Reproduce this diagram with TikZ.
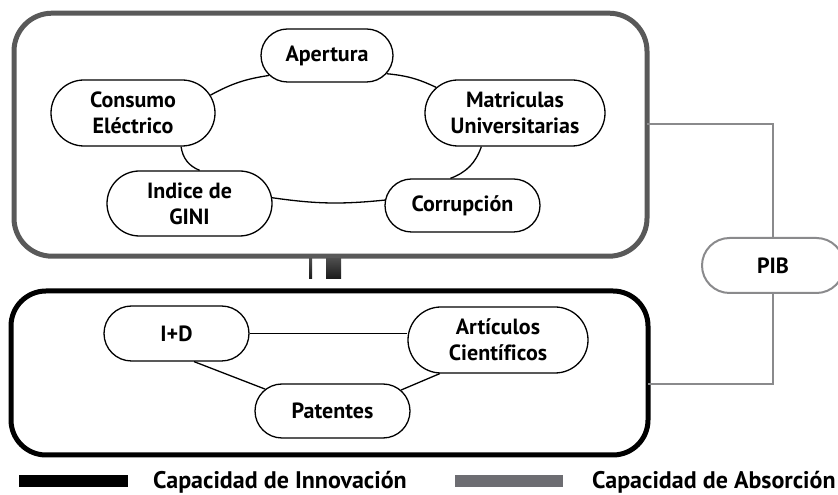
\documentclass[tikz,border=0pt]{standalone}
\usepackage{fontspec}
\setmainfont{PT Sans}[Ligatures=NoCommon]
\usetikzlibrary{shapes.misc}
\definecolor{boxgray}{HTML}{595959}
\definecolor{pibgray}{HTML}{8A8A8C}
\definecolor{leggray}{HTML}{6D6D72}
\begin{document}
\begin{tikzpicture}[x=1pt,y=1pt,
  var/.style={rounded rectangle, draw=black, line width=1.3pt, fill=white,
    inner sep=0pt, align=center, font=\fontsize{22}{26}\selectfont\bfseries},
  link/.style={line width=1.3pt, draw=black},
  conn/.style={line width=2pt, draw=pibgray},
  group/.style={rectangle, inner sep=0pt, outer sep=0pt, line width=5pt},
  legbar/.style={rectangle, inner sep=0pt, outer sep=0pt, anchor=south west,
    minimum height=12pt},
  legtext/.style={anchor=base west, inner sep=0pt,
    font=\fontsize{24}{28}\selectfont\bfseries}
]
\useasboundingbox (0,0) rectangle (838,495);

% group boxes
\node[group, draw=boxgray, rounded corners=38pt, minimum width=633pt,
  minimum height=243pt] (topbox) at (330.5,360.3) {};
\node[group, draw=black, rounded corners=35pt, minimum width=637pt,
  minimum height=164pt] (botbox) at (329.5,122) {};

% small bars between the groups
\shade[top color=black!70, bottom color=black!90] (309,216) rectangle (312,236);
\shade[top color=black!70, bottom color=black!90] (326,216) rectangle (341,236);

% PIB
\node[var, draw=pibgray, line width=2pt, minimum width=142pt,
  minimum height=55pt] (pib) at (773,229.5) {PIB};
\draw[conn] (topbox.east |- 0,371) -| (pib.north);
\draw[conn] (pib.south) |- (botbox.east |- 0,111);

% absorption variables
\node[var, minimum width=132pt, minimum height=53pt] (aper) at (327,439.5) {Apertura};
\node[var, minimum width=164pt, minimum height=66pt] (cons) at (133,382) {Consumo\\Eléctrico};
\node[var, minimum width=180pt, minimum height=66pt] (mat) at (515,382) {Matriculas\\Universitarias};
\node[var, minimum width=165pt, minimum height=65pt] (gini) at (189.5,291.5) {Indice de\\GINI};
\node[var, minimum width=155pt, minimum height=53pt] (cor) at (462.5,289.5) {Corrupción};

\draw[link] (cons.13) to[bend left=10] (aper.199);
\draw[link] (aper.-17) to[bend left=10] (mat.162);
\draw[link] (mat.225) to[bend left=25] (cor.114);
\draw[link] (cor.176) to[bend left=7] (gini.4);
\draw[link] (gini.73) to[bend left=30] (cons.-35);

% innovation variables
\node[var, minimum width=145pt, minimum height=55pt] (id) at (176.5,161.5) {I+D};
\node[var, minimum width=180pt, minimum height=66pt] (art) at (498,155) {Artículos\\Científicos};
\node[var, minimum width=155pt, minimum height=54pt] (pat) at (332.5,84) {Patentes};

\draw[link] (id.east) -- (id.east -| art.west);
\draw[link] (id.-58) -- (pat.162);
\draw[link] (pat.17) -- (art.210);

% legend
\node[legbar, fill=black, minimum width=109pt] (legi) at (19,8) {};
\node[legtext] (legit) at (153,6) {Capacidad de Innovación};
\node[legbar, fill=leggray, minimum width=108pt] (lega) at (455,8) {};
\node[legtext] (legat) at (592,6) {Capacidad de Absorción};
\end{tikzpicture}
\end{document}
